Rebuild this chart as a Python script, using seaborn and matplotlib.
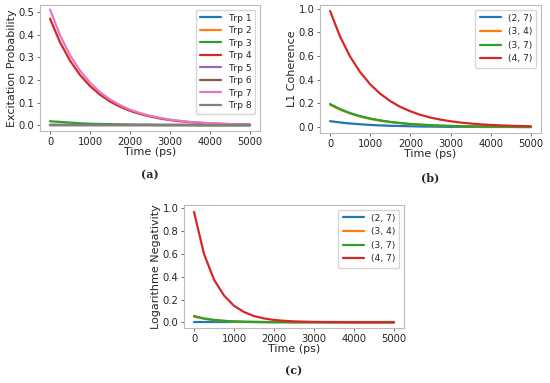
import matplotlib
matplotlib.use("Agg")
import matplotlib.pyplot as plt
import seaborn as sns
import pandas as pd

# time grid (ps), values every 250 ps
time_ps = [0, 250, 500, 750, 1000, 1250, 1500, 1750, 2000, 2250, 2500,
           2750, 3000, 3250, 3500, 3750, 4000, 4250, 4500, 4750, 5000]

# (a) excitation probability per tryptophan
trp_labels = ["Trp 1", "Trp 2", "Trp 3", "Trp 4", "Trp 5", "Trp 6", "Trp 7", "Trp 8"]
zeros = [0.0] * 21
trp3 = [0.018, 0.015, 0.012, 0.009, 0.007, 0.006, 0.005, 0.004, 0.003, 0.002, 0.002,
        0.001, 0.001, 0.001, 0.001, 0.0, 0.0, 0.0, 0.0, 0.0, 0.0]
trp4 = [0.470, 0.366, 0.285, 0.222, 0.173, 0.135, 0.105, 0.082, 0.064, 0.050, 0.039,
        0.030, 0.023, 0.018, 0.014, 0.011, 0.009, 0.007, 0.005, 0.004, 0.003]
trp7 = [0.510, 0.397, 0.309, 0.241, 0.188, 0.146, 0.114, 0.089, 0.069, 0.054, 0.042,
        0.033, 0.025, 0.020, 0.015, 0.012, 0.009, 0.007, 0.006, 0.004, 0.003]
trp_values = [zeros, zeros, trp3, trp4, zeros, zeros, trp7, zeros]

# (b) L1 coherence per pair
pair_labels = ["(2, 7)", "(3, 4)", "(3, 7)", "(4, 7)"]
l1_27 = [0.050, 0.039, 0.030, 0.024, 0.018, 0.014, 0.011, 0.009, 0.007, 0.005, 0.004,
         0.003, 0.002, 0.002, 0.002, 0.001, 0.001, 0.001, 0.001, 0.0, 0.0]
l1_34 = [0.188, 0.146, 0.114, 0.089, 0.069, 0.054, 0.042, 0.033, 0.025, 0.020, 0.015,
         0.012, 0.009, 0.007, 0.006, 0.004, 0.003, 0.003, 0.002, 0.001, 0.001]
l1_37 = [0.195, 0.152, 0.118, 0.092, 0.072, 0.056, 0.044, 0.034, 0.026, 0.021, 0.016,
         0.012, 0.010, 0.008, 0.006, 0.005, 0.004, 0.003, 0.002, 0.002, 0.001]
l1_47 = [0.980, 0.763, 0.594, 0.463, 0.361, 0.281, 0.219, 0.170, 0.133, 0.103, 0.080,
         0.063, 0.049, 0.038, 0.030, 0.023, 0.018, 0.014, 0.011, 0.009, 0.007]
l1_values = [l1_27, l1_34, l1_37, l1_47]

# (c) logarithmic negativity per pair
ln_27 = [0.0] * 21
ln_34 = [0.050, 0.031, 0.019, 0.012, 0.007, 0.004, 0.003, 0.002, 0.001, 0.001, 0.0,
         0.0, 0.0, 0.0, 0.0, 0.0, 0.0, 0.0, 0.0, 0.0, 0.0]
ln_37 = [0.055, 0.034, 0.021, 0.013, 0.008, 0.005, 0.003, 0.002, 0.001, 0.001, 0.0,
         0.0, 0.0, 0.0, 0.0, 0.0, 0.0, 0.0, 0.0, 0.0, 0.0]
ln_47 = [0.970, 0.600, 0.375, 0.235, 0.145, 0.090, 0.055, 0.034, 0.021, 0.013, 0.008,
         0.005, 0.003, 0.002, 0.001, 0.001, 0.0, 0.0, 0.0, 0.0, 0.0]
ln_values = [ln_27, ln_34, ln_37, ln_47]

trp_colors = ["#1f77b4", "#ff7f0e", "#2ca02c", "#d62728",
              "#9467bd", "#8c564b", "#e377c2", "#7f7f7f"]
pair_colors = trp_colors[:4]


def to_long(labels, values):
    rows = []
    for lab, vals in zip(labels, values):
        for t, v in zip(time_ps, vals):
            rows.append({"Time": t, "Value": v, "Series": lab})
    return pd.DataFrame(rows)


sns.set_style("white")
plt.rcParams["font.family"] = ["DejaVu Sans"]

fig = plt.figure(figsize=(5.5, 3.83), dpi=100)
W, H = 550, 383


def add_axes(left, top, right, bottom):
    return fig.add_axes([left / W, 1 - bottom / H, (right - left) / W, (bottom - top) / H])


panels = [
    (add_axes(40, 5, 260, 131), trp_labels, trp_values, trp_colors,
     "Excitation Probability", [0, 0.1, 0.2, 0.3, 0.4, 0.5], "(a)", 0.38),
    (add_axes(320, 5, 541, 133), pair_labels, l1_values, pair_colors,
     "L1 Coherence", [0, 0.2, 0.4, 0.6, 0.8, 1.0], "(b)", 0.5),
    (add_axes(184, 205, 404, 328), pair_labels, ln_values, pair_colors,
     "Logarithme Negativity", [0, 0.2, 0.4, 0.6, 0.8, 1.0], "(c)", 0.5),
]

for ax, labels, values, colors, ylabel, yticks, caption, spacing in panels:
    df = to_long(labels, values)
    sns.lineplot(data=df, x="Time", y="Value", hue="Series", hue_order=labels,
                 palette=colors, linewidth=1.6, ax=ax)
    ax.set_xlabel("Time (ps)", fontsize=8, labelpad=0)
    ax.set_ylabel(ylabel, fontsize=8, labelpad=1)
    ax.set_xticks([0, 1000, 2000, 3000, 4000, 5000])
    ax.set_yticks(yticks)
    ax.set_yticklabels([f"{v:.1f}" for v in yticks])
    ax.tick_params(axis="both", labelsize=7.2, length=2.5, width=0.6, color="#555555",
                   pad=1.5, left=True, bottom=True)
    ax.set_xlim(-250, 5250)
    for s in ax.spines.values():
        s.set_color("#bbbbbb")
        s.set_linewidth(0.8)
    ax.legend(loc="upper right", fontsize=6.6, frameon=True, handlelength=2.3,
              labelspacing=spacing, borderpad=0.45, edgecolor="#cccccc", fancybox=True)
    ax.text(0.5, -0.35, caption, transform=ax.transAxes, ha="center", va="center",
            fontsize=8, family="DejaVu Serif", fontweight="bold")

panels[0][0].set_ylim(-0.025, 0.53)
panels[1][0].set_ylim(-0.05, 1.03)
panels[2][0].set_ylim(-0.05, 1.03)

fig.savefig("out.png", dpi=100)
